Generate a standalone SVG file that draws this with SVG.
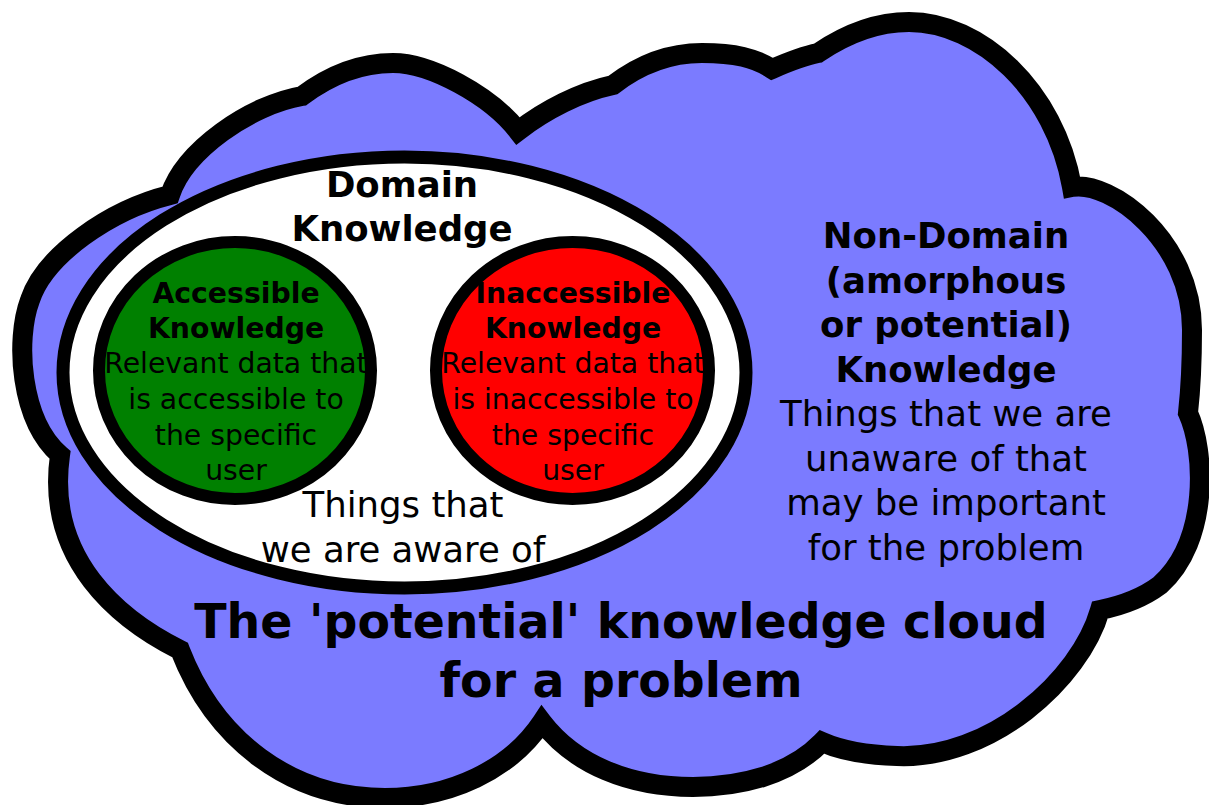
<svg xmlns="http://www.w3.org/2000/svg" width="1209" height="805" viewBox="0 0 1209 805">
<style>
text{font-family:"DejaVu Sans","Liberation Sans",sans-serif;fill:#000;text-anchor:middle}
.b{font-weight:bold}
.s{font-size:28.3px}
.m{font-size:35.5px}
.l{font-size:47.4px;font-weight:bold}
.ol{stroke:#000;stroke-linejoin:miter}
</style>
<rect width="1209" height="805" fill="#fff"/>
<g id="cloud">
<path class="ol" fill="#7b7bff" stroke-width="20" d="M170,195 C185,150 250,105 302,96 C330,75 360,63 393,63 C430,63 490,95 518,131 C545,110 580,92 613,85 C635,68 665,53 702,53 C735,53 755,58 772,69 C788,62 803,56 818,53 C840,38 870,22 909,22 C980,22 1055,90 1072,187 C1110,180 1192,240 1192,330 C1192,370 1190,395 1188,413 C1205,450 1210,540 1160,585 C1140,600 1120,606 1100,610 C1080,680 990,760 897,756 C865,755 840,750 822,742 C790,775 740,787 693,787 C630,787 575,765 542,722 C510,770 450,798 385,798 C290,798 215,740 180,650 C120,620 45,560 60,455 C20,420 15,340 30,300 C45,255 110,210 170,195 Z"/>
</g>
<g id="domain">
<ellipse class="ol" cx="404.5" cy="372.5" rx="341.5" ry="215.5" fill="#fff" stroke-width="13"/>
<text class="m b" x="402" y="197">Domain</text>
<text class="m b" x="402" y="241">Knowledge</text>
<text class="m" x="403" y="517">Things that</text>
<text class="m" x="403" y="562">we are aware of</text>
</g>
<g id="accessible">
<ellipse class="ol" cx="235" cy="370.5" rx="136" ry="128.5" fill="#008000" stroke-width="12"/>
<text class="s b" x="236" y="303">Accessible</text>
<text class="s b" x="236" y="338">Knowledge</text>
<text class="s" x="236" y="373">Relevant data that</text>
<text class="s" x="236" y="409">is accessible to</text>
<text class="s" x="236" y="445">the specific</text>
<text class="s" x="236" y="480">user</text>
</g>
<g id="inaccessible">
<ellipse class="ol" cx="572.5" cy="370.5" rx="136.5" ry="128.5" fill="#ff0000" stroke-width="12"/>
<text class="s b" x="573" y="303">Inaccessible</text>
<text class="s b" x="573" y="338">Knowledge</text>
<text class="s" x="573" y="373">Relevant data that</text>
<text class="s" x="573" y="409">is inaccessible to</text>
<text class="s" x="573" y="445">the specific</text>
<text class="s" x="573" y="480">user</text>
</g>
<g id="nondomain">
<text class="m b" x="946" y="248">Non-Domain</text>
<text class="m b" x="946" y="292.5">(amorphous</text>
<text class="m b" x="946" y="337">or potential)</text>
<text class="m b" x="946" y="381.5">Knowledge</text>
<text class="m" x="946" y="426">Things that we are</text>
<text class="m" x="946" y="470.5">unaware of that</text>
<text class="m" x="946" y="515">may be important</text>
<text class="m" x="946" y="559.5">for the problem</text>
</g>
<g id="title">
<text class="l" x="621" y="638">The 'potential' knowledge cloud</text>
<text class="l" x="621" y="697">for a problem</text>
</g>
<g id="connectors"/>
</svg>
